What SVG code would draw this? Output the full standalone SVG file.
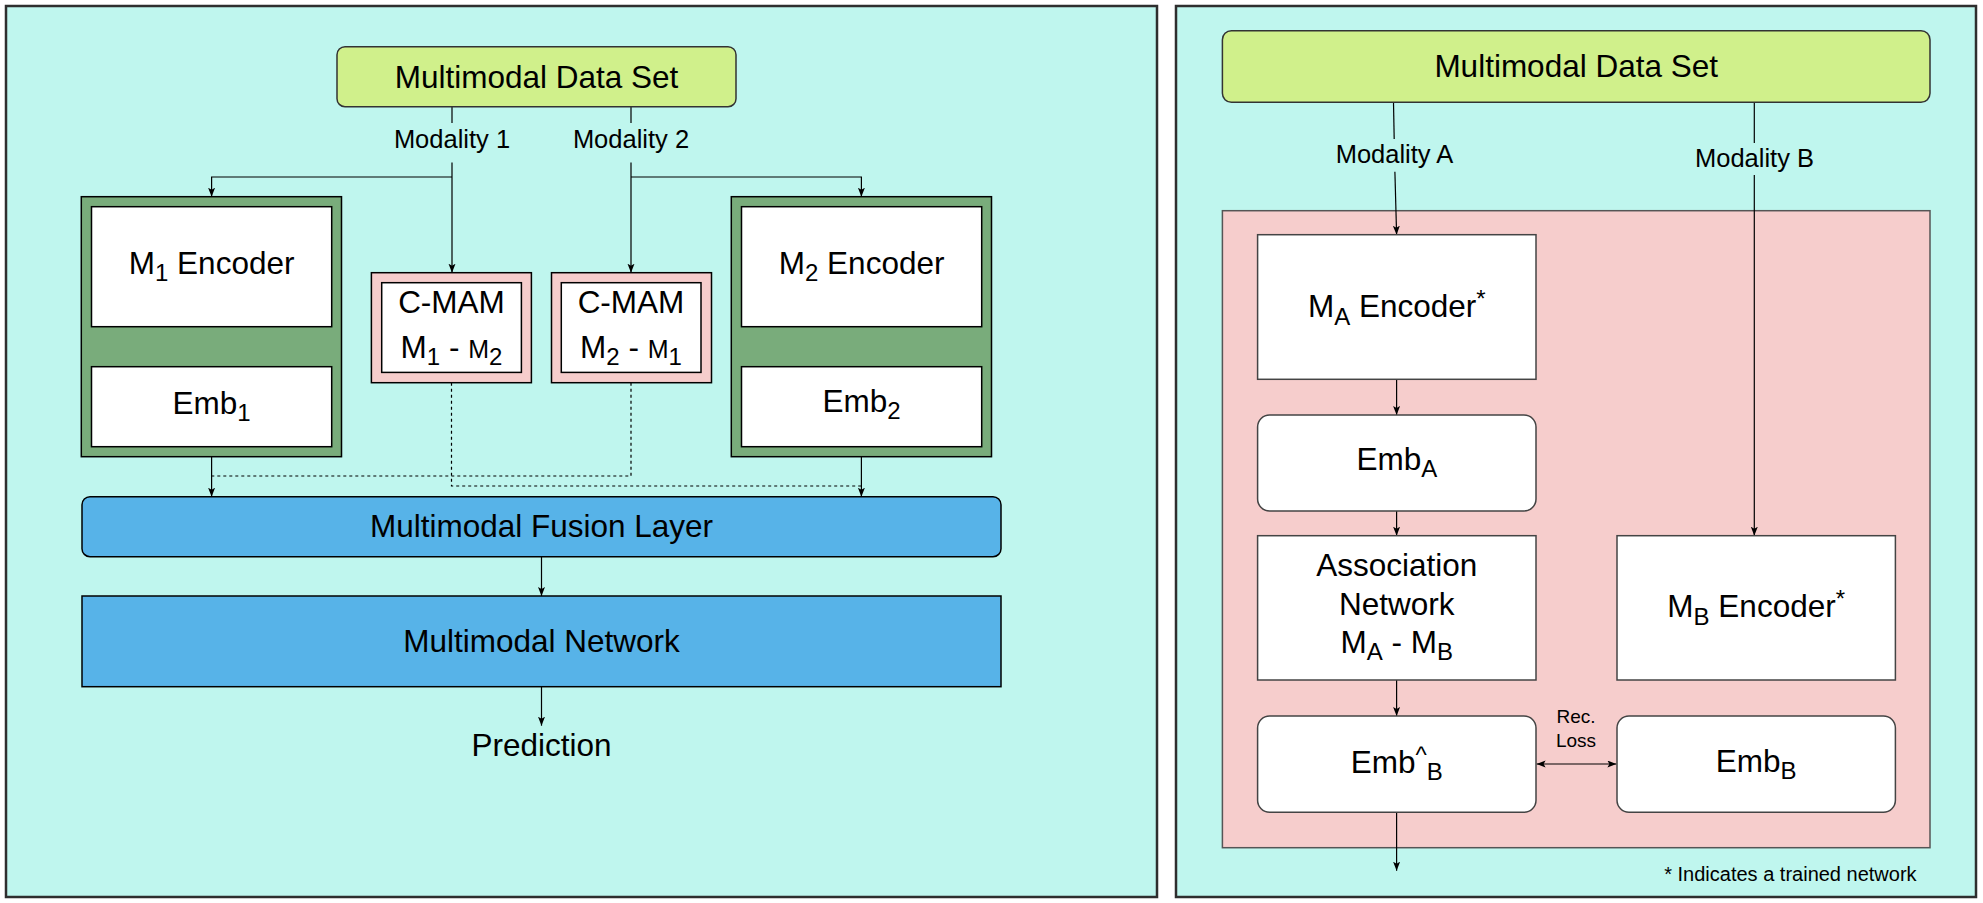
<svg xmlns="http://www.w3.org/2000/svg" width="1983" height="903" viewBox="0 0 1983 903">
<defs>
<marker id="arr" markerWidth="10" markerHeight="8" refX="9" refY="3.5" orient="auto-start-reverse" markerUnits="userSpaceOnUse">
<path d="M0,0 L9,3.5 L0,7 L2,3.5 z" fill="#000"/>
</marker>
</defs>
<style>
.panel{fill:#BFF6EE;stroke:#2e2e2e;stroke-width:2.5}
.ds{fill:#D0F08B;stroke:#333;stroke-width:1.5}
.grn{fill:#79AC7B;stroke:#000;stroke-width:1.5}
.wb{fill:#fff;stroke:#000;stroke-width:1.5}
.wr{fill:#fff;stroke:#444;stroke-width:1.5}
.pk{fill:#F6CDCC;stroke:#000;stroke-width:1.5}
.pkc{fill:#F6CDCC;stroke:#555;stroke-width:1.5}
.blue{fill:#57B3E8;stroke:#000;stroke-width:1.5}
.ln{fill:none;stroke:#000;stroke-width:1.2}
.la{fill:none;stroke:#000;stroke-width:1.2;marker-end:url(#arr)}
.dash{fill:none;stroke:#000;stroke-width:1.2;stroke-dasharray:3 3}
text{font-family:"Liberation Sans",Arial,Helvetica,sans-serif;fill:#000}
.L{font-size:31.5px;text-anchor:middle}
.mod{font-size:25.5px;text-anchor:middle}
.sm{font-size:19px;text-anchor:middle}
.fn{font-size:20px}
.sub{font-size:24px}
</style>

<!-- panels -->
<rect class="panel" x="6" y="6" width="1151" height="891"/>
<rect class="panel" x="1176" y="6" width="800" height="891"/>

<g id="container">
<rect class="pkc" x="1222.4" y="210.7" width="707.6" height="637"/>
</g>

<!-- connectors -->
<g id="connectors">
<!-- left panel -->
<line class="ln" x1="452" y1="106.7" x2="452" y2="123"/>
<line class="ln" x1="631" y1="106.7" x2="631" y2="123"/>
<line class="la" x1="452" y1="162.5" x2="452" y2="272.7"/>
<line class="la" x1="631" y1="162.5" x2="631" y2="272.7"/>
<polyline class="la" points="452,177 211.6,177 211.6,196.7"/>
<polyline class="la" points="631,177 861.4,177 861.4,196.7"/>
<line class="la" x1="211.6" y1="456.7" x2="211.6" y2="496.7"/>
<line class="la" x1="861.4" y1="456.7" x2="861.4" y2="496.7"/>
<polyline class="dash" points="451.5,382.7 451.5,486 861.4,486"/>
<polyline class="dash" points="631,382.7 631,476 211.6,476"/>
<line class="la" x1="541.5" y1="556.7" x2="541.5" y2="596"/>
<line class="la" x1="541.5" y1="686.7" x2="541.5" y2="725.7"/>
<!-- right panel -->
<line class="ln" x1="1393.5" y1="102.3" x2="1394.2" y2="139"/>
<line class="la" x1="1394.9" y1="171.7" x2="1396.6" y2="234.7"/>
<line class="ln" x1="1754.3" y1="102.3" x2="1754.3" y2="143"/>
<line class="la" x1="1754.3" y1="175" x2="1754.3" y2="535.7"/>
<line class="la" x1="1396.6" y1="379.3" x2="1396.6" y2="415"/>
<line class="la" x1="1396.6" y1="511" x2="1396.6" y2="535.7"/>
<line class="la" x1="1396.6" y1="680" x2="1396.6" y2="716"/>
<line class="la" x1="1396.6" y1="812.3" x2="1396.6" y2="870.7"/>
<line class="la" x1="1536.6" y1="764" x2="1616.4" y2="764" style="marker-start:url(#arr)"/>
<text class="mod" x="452" y="148">Modality 1</text>
<text class="mod" x="631" y="148">Modality 2</text>
<text class="mod" x="1394.5" y="163">Modality A</text>
<text class="mod" x="1754.5" y="166.5">Modality B</text>
<text class="sm" x="1576" y="723">Rec.</text>
<text class="sm" x="1576" y="747">Loss</text>
</g>

<!-- LEFT PANEL NODES -->
<g id="dataset-left">
<rect class="ds" x="337" y="46.7" width="399" height="60" rx="8"/>
<text class="L" x="536.5" y="88">Multimodal Data Set</text>
</g>

<g id="m1-block">
<rect class="grn" x="81.3" y="196.7" width="260.2" height="260"/>
</g>
<g id="m1-encoder">
<rect class="wb" x="91.5" y="206.7" width="240.2" height="120"/>
<text class="L" x="211.6" y="274">M<tspan class="sub" dy="7">1</tspan><tspan dy="-7"> Encoder</tspan></text>
</g>
<g id="emb1">
<rect class="wb" x="91.5" y="366.7" width="240.2" height="80"/>
<text class="L" x="211.6" y="413.5">Emb<tspan class="sub" dy="7">1</tspan></text>
</g>

<g id="cmam1">
<rect class="pk" x="371.4" y="272.7" width="160" height="110"/>
<rect class="wb" x="381.7" y="282.7" width="139.7" height="89.7"/>
<text class="L" x="451.5" y="313.3">C-MAM</text>
<text class="L" x="451.5" y="357.7">M<tspan class="sub" dy="7">1</tspan><tspan dy="-7"> - </tspan><tspan font-size="25">M</tspan><tspan class="sub" dy="7">2</tspan></text>
</g>

<g id="cmam2">
<rect class="pk" x="551.5" y="272.7" width="160" height="110"/>
<rect class="wb" x="561.3" y="282.7" width="139.7" height="89.7"/>
<text class="L" x="631" y="313.3">C-MAM</text>
<text class="L" x="631" y="357.7">M<tspan class="sub" dy="7">2</tspan><tspan dy="-7"> - </tspan><tspan font-size="25">M</tspan><tspan class="sub" dy="7">1</tspan></text>
</g>

<g id="m2-block">
<rect class="grn" x="731.3" y="196.7" width="260.2" height="260"/>
</g>
<g id="m2-encoder">
<rect class="wb" x="741.5" y="206.7" width="240.2" height="120"/>
<text class="L" x="861.6" y="274">M<tspan class="sub" dy="7">2</tspan><tspan dy="-7"> Encoder</tspan></text>
</g>
<g id="emb2">
<rect class="wb" x="741.5" y="366.7" width="240.2" height="80"/>
<text class="L" x="861.6" y="412">Emb<tspan class="sub" dy="7">2</tspan></text>
</g>

<g id="fusion">
<rect class="blue" x="82" y="496.7" width="919" height="60" rx="8"/>
<text class="L" x="541.5" y="537">Multimodal Fusion Layer</text>
</g>
<g id="network">
<rect class="blue" x="82" y="596" width="919" height="90.7"/>
<text class="L" x="541.5" y="652">Multimodal Network</text>
</g>
<g id="prediction">
<text class="L" x="541.5" y="756">Prediction</text>
</g>

<!-- RIGHT PANEL NODES -->
<g id="dataset-right">
<rect class="ds" x="1222.4" y="30.7" width="707.6" height="71.6" rx="9"/>
<text class="L" x="1576.2" y="77">Multimodal Data Set</text>
</g>

<g id="ma-encoder">
<rect class="wr" x="1257.6" y="234.7" width="278.4" height="144.6"/>
<text class="L" x="1396.8" y="317">M<tspan class="sub" dy="8">A</tspan><tspan dy="-8"> Encoder</tspan><tspan class="sub" dy="-10">*</tspan></text>
</g>
<g id="emb-a">
<rect class="wr" x="1257.6" y="415" width="278.4" height="96" rx="12"/>
<text class="L" x="1396.8" y="470">Emb<tspan class="sub" dy="7">A</tspan></text>
</g>
<g id="association">
<rect class="wr" x="1257.6" y="535.7" width="278.4" height="144.3"/>
<text class="L" x="1396.8" y="576">Association</text>
<text class="L" x="1396.8" y="614.5">Network</text>
<text class="L" x="1396.8" y="653">M<tspan class="sub" dy="7">A</tspan><tspan dy="-7"> - M</tspan><tspan class="sub" dy="7">B</tspan></text>
</g>
<g id="mb-encoder">
<rect class="wr" x="1617" y="535.7" width="278.4" height="144.3"/>
<text class="L" x="1756.2" y="617">M<tspan class="sub" dy="8">B</tspan><tspan dy="-8"> Encoder</tspan><tspan class="sub" dy="-10">*</tspan></text>
</g>
<g id="emb-hat-b">
<rect class="wr" x="1257.6" y="716" width="278.4" height="96.3" rx="12"/>
<text class="L" x="1396.8" y="773">Emb<tspan class="sub" dy="-10">^</tspan><tspan class="sub" dy="17">B</tspan></text>
</g>
<g id="emb-b">
<rect class="wr" x="1617" y="716" width="278.4" height="96.3" rx="12"/>
<text class="L" x="1756.2" y="772">Emb<tspan class="sub" dy="7">B</tspan></text>
</g>

<g id="footnote">
<text class="fn" x="1916.6" y="881" text-anchor="end">* Indicates a trained network</text>
</g>
</svg>
